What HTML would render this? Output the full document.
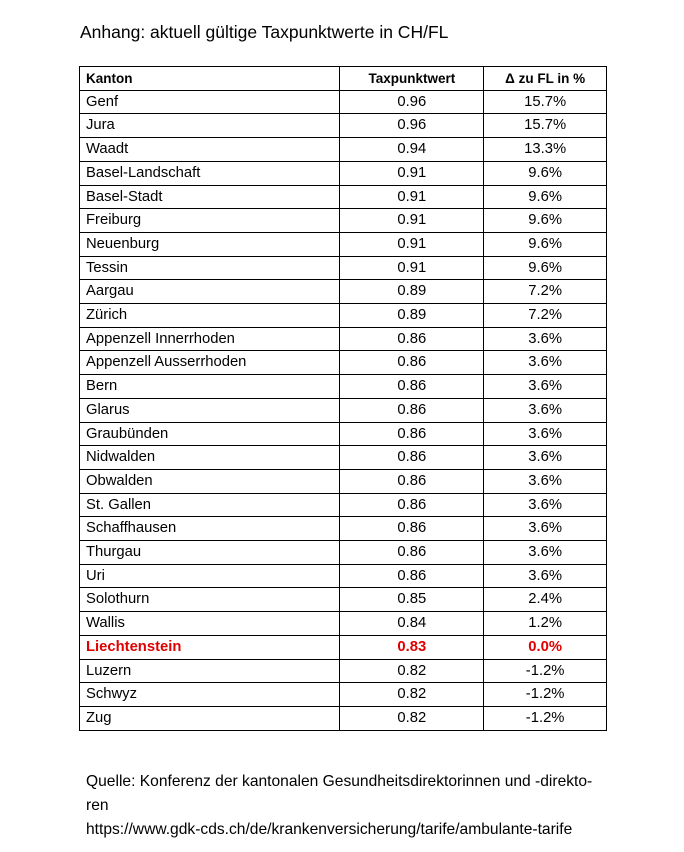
<!DOCTYPE html>
<html><head><meta charset="utf-8"><style>
body{margin:0;width:684px;height:852px;background:#fff;font-family:"Liberation Sans",sans-serif;color:#000;position:relative}
.t{position:absolute;left:80px;top:22px;font-size:17.5px}
table{position:absolute;left:79px;top:66px;border-collapse:collapse;width:528px;font-size:14.8px}
td{border:1px solid #000;height:22.7px;padding:1px 6px 0 6px;line-height:21.7px;box-sizing:border-box}
td:nth-child(2),td:nth-child(3){text-align:center}
tr.h td{font-weight:bold;font-size:13.5px}
tr.r td{color:#e00000;font-weight:bold}
.q{position:absolute;left:86px;top:770px;font-size:15.6px;line-height:24px}
</style></head><body>
<div class="t">Anhang: aktuell gültige Taxpunktwerte in CH/FL</div>
<table>
<colgroup><col style="width:261px"><col style="width:144px"><col style="width:123px"></colgroup>
<tr class="h"><td>Kanton</td><td>Taxpunktwert</td><td>Δ zu FL in %</td></tr>
<tr><td>Genf</td><td>0.96</td><td>15.7%</td></tr>
<tr><td>Jura</td><td>0.96</td><td>15.7%</td></tr>
<tr><td>Waadt</td><td>0.94</td><td>13.3%</td></tr>
<tr><td>Basel-Landschaft</td><td>0.91</td><td>9.6%</td></tr>
<tr><td>Basel-Stadt</td><td>0.91</td><td>9.6%</td></tr>
<tr><td>Freiburg</td><td>0.91</td><td>9.6%</td></tr>
<tr><td>Neuenburg</td><td>0.91</td><td>9.6%</td></tr>
<tr><td>Tessin</td><td>0.91</td><td>9.6%</td></tr>
<tr><td>Aargau</td><td>0.89</td><td>7.2%</td></tr>
<tr><td>Zürich</td><td>0.89</td><td>7.2%</td></tr>
<tr><td>Appenzell Innerrhoden</td><td>0.86</td><td>3.6%</td></tr>
<tr><td>Appenzell Ausserrhoden</td><td>0.86</td><td>3.6%</td></tr>
<tr><td>Bern</td><td>0.86</td><td>3.6%</td></tr>
<tr><td>Glarus</td><td>0.86</td><td>3.6%</td></tr>
<tr><td>Graubünden</td><td>0.86</td><td>3.6%</td></tr>
<tr><td>Nidwalden</td><td>0.86</td><td>3.6%</td></tr>
<tr><td>Obwalden</td><td>0.86</td><td>3.6%</td></tr>
<tr><td>St. Gallen</td><td>0.86</td><td>3.6%</td></tr>
<tr><td>Schaffhausen</td><td>0.86</td><td>3.6%</td></tr>
<tr><td>Thurgau</td><td>0.86</td><td>3.6%</td></tr>
<tr><td>Uri</td><td>0.86</td><td>3.6%</td></tr>
<tr><td>Solothurn</td><td>0.85</td><td>2.4%</td></tr>
<tr><td>Wallis</td><td>0.84</td><td>1.2%</td></tr>
<tr class="r"><td>Liechtenstein</td><td>0.83</td><td>0.0%</td></tr>
<tr><td>Luzern</td><td>0.82</td><td>-1.2%</td></tr>
<tr><td>Schwyz</td><td>0.82</td><td>-1.2%</td></tr>
<tr><td>Zug</td><td>0.82</td><td>-1.2%</td></tr>
</table>
<div class="q">Quelle: Konferenz der kantonalen Gesundheitsdirektorinnen und -direkto-<br>ren<br>https://www.gdk-cds.ch/de/krankenversicherung/tarife/ambulante-tarife</div>
</body></html>
